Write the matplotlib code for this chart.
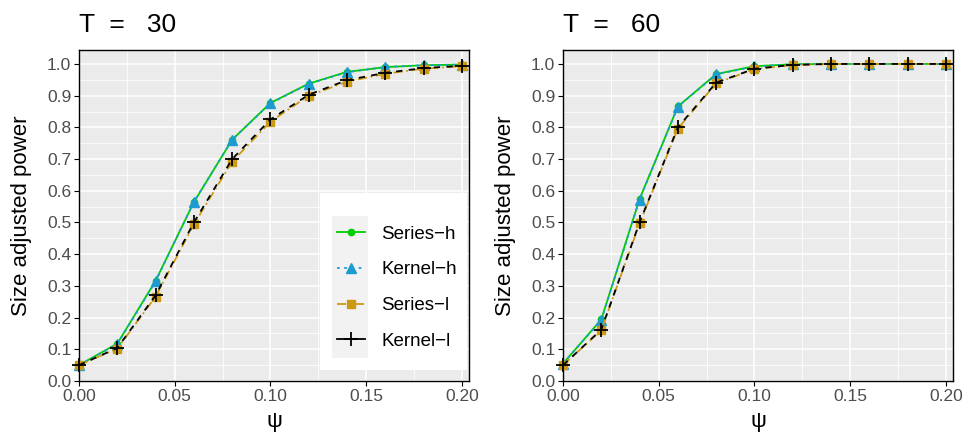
import matplotlib
matplotlib.use("Agg")
import matplotlib.pyplot as plt
from matplotlib.patches import Rectangle
from matplotlib.lines import Line2D
import numpy as np

plt.rcParams['font.family'] = ['Liberation Sans', 'DejaVu Sans']

psi = [0.00, 0.02, 0.04, 0.06, 0.08, 0.10, 0.12, 0.14, 0.16, 0.18, 0.20]

# T = 30
t30_series_h = [0.050, 0.118, 0.316, 0.564, 0.761, 0.877, 0.938, 0.975, 0.990, 0.996, 0.998]
t30_kernel_h = [0.050, 0.116, 0.314, 0.565, 0.761, 0.876, 0.937, 0.974, 0.990, 0.996, 0.998]
t30_series_l = [0.050, 0.102, 0.266, 0.494, 0.692, 0.818, 0.900, 0.944, 0.969, 0.985, 0.993]
t30_kernel_l = [0.050, 0.104, 0.270, 0.500, 0.700, 0.825, 0.903, 0.949, 0.972, 0.987, 0.994]

# T = 60
t60_series_h = [0.055, 0.194, 0.574, 0.866, 0.968, 0.993, 0.999, 1.000, 1.000, 1.000, 1.000]
t60_kernel_h = [0.055, 0.192, 0.572, 0.865, 0.967, 0.992, 0.999, 1.000, 1.000, 1.000, 1.000]
t60_series_l = [0.050, 0.160, 0.497, 0.796, 0.939, 0.984, 0.996, 1.000, 1.000, 1.000, 1.000]
t60_kernel_l = [0.050, 0.162, 0.500, 0.800, 0.941, 0.985, 0.997, 1.000, 1.000, 1.000, 1.000]

titles = ["T  =   30", "T  =   60"]
labels = ["Series\u2212h", "Kernel\u2212h", "Series\u2212l", "Kernel\u2212l"]
colors = ["#00CD00", "#1E9BD0", "#CC9914", "#000000"]
markers = ["o", "^", "s", "+"]
msizes = [4.5, 6.5, 6, 10]
dashes = [None, (1.5, 2.5), (5, 2, 1, 2), (3.5, 3.5)]
legend_dashes = [None, (1.5, 2.5), (5, 2, 1, 2), None]

panels = [
    [t30_series_h, t30_kernel_h, t30_series_l, t30_kernel_l],
    [t60_series_h, t60_kernel_h, t60_series_l, t60_kernel_l],
]

fig = plt.figure(figsize=(9.68, 4.32), dpi=100)
ax_pos = [[79/968, 1-381/432, 390/968, 331/432],
          [563/968, 1-381/432, 390/968, 331/432]]

tick_col = "#4D4D4D"
for i, (pos, series) in enumerate(zip(ax_pos, panels)):
    ax = fig.add_axes(pos)
    ax.set_facecolor("#EBEBEB")
    ax.set_xlim(0, 0.2037)
    ax.set_ylim(0, 1.044)
    ax.set_xticks([0, 0.05, 0.10, 0.15, 0.20])
    ax.set_xticklabels(["0.00", "0.05", "0.10", "0.15", "0.20"])
    ax.set_yticks(np.round(np.arange(0, 1.01, 0.1), 1))
    ax.set_yticklabels([f"{v:.1f}" for v in np.arange(0, 1.01, 0.1)])
    ax.set_xticks([0.025, 0.075, 0.125, 0.175], minor=True)
    ax.set_yticks(np.arange(0.05, 1.0, 0.1), minor=True)
    ax.grid(which="major", color="white", lw=1.1)
    ax.grid(which="minor", color="white", lw=0.55)
    ax.set_axisbelow(True)
    ax.tick_params(which="major", direction="out", length=3.5, width=0.8,
                   color="black", labelsize=12.5, labelcolor=tick_col, pad=2)
    ax.tick_params(which="minor", length=0)
    for s in ax.spines.values():
        s.set_color("black")
        s.set_linewidth(1.0)
    for j, y in enumerate(series):
        kw = dict(color=colors[j], lw=1.3, marker=markers[j], ms=msizes[j],
                  label=labels[j], clip_on=False, zorder=3 + j)
        if j == 3:
            kw["mew"] = 1.3
        line, = ax.plot(psi, y, **kw)
        if dashes[j] is not None:
            line.set_dashes(dashes[j])
    ax.set_xlabel("\u03c8", fontsize=16, labelpad=5)
    ax.set_ylabel("Size adjusted power", fontsize=16, labelpad=11)
    ax.text(0.0, 1.054, titles[i], transform=ax.transAxes, fontsize=19,
            ha="left", va="baseline")

    if i == 0:
        ax.add_patch(Rectangle((0.618, 0.033), 0.377, 0.535, transform=ax.transAxes,
                               facecolor="white", edgecolor="none", zorder=10))
        ax.add_patch(Rectangle((0.649, 0.069), 0.092, 0.429, transform=ax.transAxes,
                               facecolor="#F2F2F2", edgecolor="none", zorder=11))
        handles = []
        for j in range(4):
            h = Line2D([], [], color=colors[j], lw=1.3, marker=markers[j],
                       ms=msizes[j], mew=1.3 if j == 3 else 1.0)
            if legend_dashes[j] is not None:
                h.set_dashes(legend_dashes[j])
            handles.append(h)
        leg = ax.legend(handles, labels, loc="center left",
                        bbox_to_anchor=(0.662, 0.282), frameon=False,
                        fontsize=13.5, handlelength=1.5, handletextpad=0.85,
                        labelspacing=0.99, borderpad=0, borderaxespad=0)
        leg.set_zorder(12)

fig.savefig("out.png", dpi=100)
